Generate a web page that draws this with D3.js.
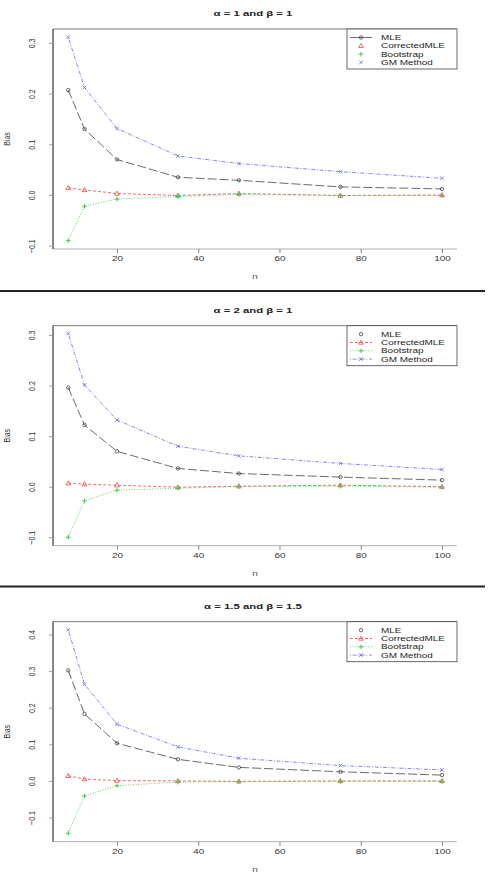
<!DOCTYPE html>
<html>
<head>
<meta charset="utf-8">
<script src="https://cdn.jsdelivr.net/npm/d3@7"></script>
<style>
  body { margin: 0; background: #fff; }
  svg { display: block; font-family: "Liberation Sans", Arial, sans-serif; }
</style>
</head>
<body>
<div id="chart"></div>
<script>
// sample sizes
const nValues = [8, 12, 20, 35, 50, 75, 100];
const seriesNames = ['MLE', 'CorrectedMLE', 'Bootstrap', 'GM Method'];

// panel 1: alpha = 1, beta = 1
const mle1  = [0.207, 0.130, 0.070, 0.035, 0.029, 0.016, 0.012];
const cmle1 = [0.014, 0.010, 0.003, -0.001, 0.003, -0.001, 0.000];
const boot1 = [-0.090, -0.022, -0.008, -0.003, 0.001, -0.001, -0.001];
const gm1   = [0.311, 0.212, 0.131, 0.077, 0.062, 0.046, 0.033];

// panel 2: alpha = 2, beta = 1
const mle2  = [0.196, 0.122, 0.070, 0.036, 0.026, 0.019, 0.013];
const cmle2 = [0.007, 0.005, 0.003, -0.001, 0.001, 0.003, 0.000];
const boot2 = [-0.100, -0.028, -0.007, -0.003, 0.000, 0.001, -0.001];
const gm2   = [0.303, 0.201, 0.132, 0.080, 0.061, 0.046, 0.034];

// panel 3: alpha = 1.5, beta = 1.5
const mle3  = [0.302, 0.183, 0.103, 0.059, 0.037, 0.025, 0.016];
const cmle3 = [0.014, 0.005, 0.001, 0.000, -0.001, 0.000, 0.000];
const boot3 = [-0.143, -0.041, -0.013, -0.003, -0.002, -0.001, -0.001];
const gm3   = [0.413, 0.264, 0.155, 0.093, 0.062, 0.042, 0.030];

const xTicks = [20, 40, 60, 80, 100];
const yTicks12 = [-0.1, 0.0, 0.1, 0.2, 0.3];
const yTicks3 = [-0.1, 0.0, 0.1, 0.2, 0.3, 0.4];

const panels = [
  { alpha: '1', beta: '1', series: [mle1, cmle1, boot1, gm1], yDomain: [-0.1065, 0.3274], yTicks: yTicks12, legendMleLine: true },
  { alpha: '2', beta: '1', series: [mle2, cmle2, boot2, gm2], yDomain: [-0.1167, 0.3184], yTicks: yTicks12, legendMleLine: false },
  { alpha: '1.5', beta: '1.5', series: [mle3, cmle3, boot3, gm3], yDomain: [-0.166, 0.435], yTicks: yTicks3, legendMleLine: false }
];

const W = 489, H = 873;
const SX = 1.42; // the source image is stretched sideways
const styles = [
  { color: '#444', dash: '9,3', marker: 'circle' },
  { color: '#e8474a', dash: '3,2', marker: 'triangle' },
  { color: '#3cc43c', dash: '1,1.6', marker: 'plus' },
  { color: '#6a6ae8', dash: '1,1.6,4,1.6', marker: 'cross' }
];

// panel geometry (top offset of each panel's plot area)
const plotTops = [29, 325.7, 621.7];
const plotH = 220;
const left = 53, right = 457;

const svg = d3.select('#chart').append('svg')
  .attr('width', W).attr('height', H);

// separators between panels
[291, 586.5].forEach(y => {
  svg.append('line')
    .attr('x1', 0).attr('x2', 485).attr('y1', y).attr('y2', y)
    .attr('stroke', '#222').attr('stroke-width', 2);
});

const x = d3.scaleLinear().domain([4.25, 103.7]).range([left, right]);

function wideText(g, tx, ty, str, size, anchor) {
  return g.append('text')
    .attr('transform', `translate(${tx},${ty}) scale(${SX},1)`)
    .attr('text-anchor', anchor)
    .attr('font-size', size)
    .text(str);
}

function drawMarker(g, type, cx, cy, color) {
  if (type === 'circle') {
    g.append('circle').attr('cx', cx).attr('cy', cy).attr('r', 1.7)
      .attr('fill', 'none').attr('stroke', color).attr('stroke-width', 0.8);
  } else if (type === 'triangle') {
    const s = 2.4;
    g.append('path')
      .attr('d', `M${cx},${cy - s}L${cx + s},${cy + s * 0.7}L${cx - s},${cy + s * 0.7}Z`)
      .attr('fill', 'none').attr('stroke', color).attr('stroke-width', 0.8);
  } else if (type === 'plus') {
    const s = 2.4;
    g.append('path')
      .attr('d', `M${cx - s},${cy}H${cx + s}M${cx},${cy - s}V${cy + s}`)
      .attr('stroke', color).attr('stroke-width', 0.9);
  } else {
    const s = 1.8;
    g.append('path')
      .attr('d', `M${cx - s},${cy - s}L${cx + s},${cy + s}M${cx - s},${cy + s}L${cx + s},${cy - s}`)
      .attr('stroke', color).attr('stroke-width', 0.8);
  }
}

panels.forEach((p, pi) => {
  const top = plotTops[pi];
  const bottom = top + plotH;
  const y = d3.scaleLinear().domain(p.yDomain).range([bottom, top]);
  const g = svg.append('g');

  // title
  wideText(g, (left + right) / 2 - 2, top - 13, `\u03b1 = ${p.alpha} and \u03b2 = ${p.beta}`, '8px', 'middle')
    .attr('font-weight', 'bold').attr('fill', '#222');

  // frame: top, left, bottom
  g.append('line').attr('x1', left).attr('x2', right).attr('y1', top).attr('y2', top)
    .attr('stroke', '#555').attr('stroke-width', 0.8);
  g.append('line').attr('x1', left).attr('x2', right).attr('y1', bottom).attr('y2', bottom)
    .attr('stroke', '#999').attr('stroke-width', 0.8);
  g.append('line').attr('x1', left).attr('x2', left).attr('y1', top).attr('y2', bottom)
    .attr('stroke', '#111').attr('stroke-width', 1);

  // x axis
  const xAxis = g.append('g')
    .attr('transform', `translate(0,${bottom})`)
    .call(d3.axisBottom(x).tickValues(xTicks).tickSize(4).tickPadding(3));
  xAxis.select('.domain').remove();
  xAxis.selectAll('line').attr('stroke', '#666').attr('stroke-width', 0.8);
  xAxis.selectAll('text').attr('font-size', '7px').attr('fill', '#333')
    .attr('font-family', '"Liberation Sans", Arial, sans-serif')
    .attr('transform', `scale(${SX},1)`);

  // y axis, rotated labels like R
  const yAxis = g.append('g')
    .attr('transform', `translate(${left},0)`)
    .call(d3.axisLeft(y).tickValues(p.yTicks).tickSize(4).tickFormat(d3.format('.1f')));
  yAxis.select('.domain').remove();
  yAxis.selectAll('line').attr('stroke', '#888').attr('stroke-width', 0.8);
  yAxis.selectAll('text')
    .attr('font-size', '7px').attr('fill', '#333')
    .attr('font-family', '"Liberation Sans", Arial, sans-serif')
    .attr('text-anchor', 'middle')
    .attr('x', 0).attr('dy', 0)
    .attr('transform', `translate(-18,0) scale(${SX},1) rotate(-90)`);

  // axis titles
  wideText(g, (left + right) / 2, bottom + 30, 'n', '7px', 'middle').attr('fill', '#555');
  g.append('text')
    .attr('transform', `translate(10,${(top + bottom) / 2}) scale(${SX},1) rotate(-90)`)
    .attr('text-anchor', 'middle').attr('font-size', '7px').attr('fill', '#333')
    .text('Bias');

  // series
  p.series.forEach((vals, si) => {
    const st = styles[si];
    const line = d3.line().x((d, i) => x(nValues[i])).y(d => y(d));
    g.append('path')
      .datum(vals)
      .attr('d', line)
      .attr('fill', 'none')
      .attr('stroke', st.color)
      .attr('stroke-width', 0.8)
      .attr('stroke-dasharray', st.dash);
    vals.forEach((v, i) => drawMarker(g, st.marker, x(nValues[i]), y(v), st.color));
  });

  // legend
  const lg = g.append('g');
  lg.append('rect')
    .attr('x', 347).attr('y', top).attr('width', right - 347).attr('height', 40)
    .attr('fill', '#fff').attr('stroke', '#444').attr('stroke-width', 0.8);
  seriesNames.forEach((name, si) => {
    const st = styles[si];
    const ry = top + 8.5 + si * 8.3;
    const showLine = si === 0 ? p.legendMleLine : !p.legendMleLine;
    if (showLine) {
      lg.append('line')
        .attr('x1', 350).attr('x2', 372).attr('y1', ry).attr('y2', ry)
        .attr('stroke', st.color).attr('stroke-width', 0.8)
        .attr('stroke-dasharray', si === 0 ? null : st.dash);
    }
    drawMarker(lg, st.marker, 361, ry, st.color);
    wideText(lg, 381, ry + 2.5, name, '7px', 'start').attr('fill', '#222');
  });
});
</script>
</body>
</html>
